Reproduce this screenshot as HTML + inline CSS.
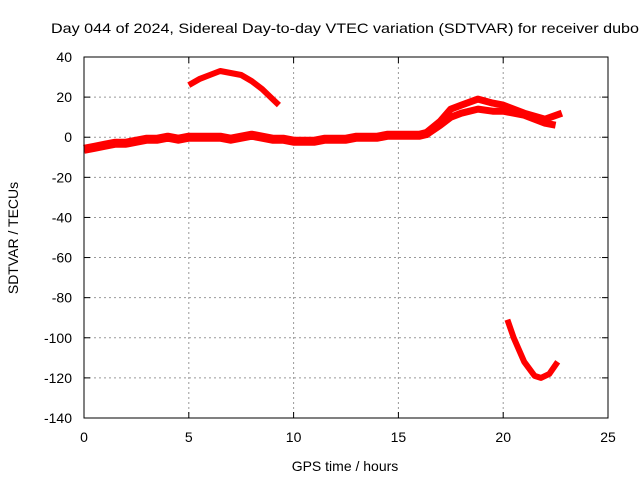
<!DOCTYPE html>
<html><head><meta charset="utf-8"><style>
body{margin:0;background:#fff}
svg text{font-family:"Liberation Sans",sans-serif;font-size:14px;fill:#000}
</style></head><body>
<svg id="c" width="640" height="480">
<g id="grid"></g><g id="series"></g><g id="axes"></g>
<text x="51" y="33" textLength="588" lengthAdjust="spacingAndGlyphs">Day 044 of 2024, Sidereal Day-to-day VTEC variation (SDTVAR) for receiver dubo</text>
<text x="345" y="471" text-anchor="middle">GPS time / hours</text>
<text transform="translate(18,238) rotate(-90)" text-anchor="middle">SDTVAR / TECUs</text>
</svg>
<script>
const xTicks=[0,5,10,15,20,25];
const yTicks=[40,20,0,-20,-40,-60,-80,-100,-120,-140];
const mainX=[0,0.5,1,1.5,2,2.5,3,3.5,4,4.5,5,5.5,6,6.5,7,7.5,8,8.5,9,9.5,10,10.5,11,11.5,12,12.5,13,13.5,14,14.5,15,15.5,16,16.4];
const mainY=[-6,-5,-4,-3,-3,-2,-1,-1,0,-1,0,0,0,0,-1,0,1,0,-1,-1,-2,-2,-2,-1,-1,-1,0,0,0,1,1,1,1,2];
const upperX=[16.3,17,17.5,18,18.8,19.5,20,21,22,22.8];
const upperY=[2,8,14,16,19,17,16,12,9,12];
const lowerX=[16.3,17,17.5,18,18.8,19.5,20,21,22,22.5];
const lowerY=[1,6,10,12,14,13,13,11,7,6];
const arcX=[5,5.5,6,6.5,7,7.5,8,8.5,9,9.3];
const arcY=[26,29,31,33,32,31,28,24,19,16];
const dipX=[20.2,20.5,21,21.5,21.8,22.2,22.6];
const dipY=[-91,-100,-112,-119,-120,-118,-112];
const L=84,R=608,T=57,B=418;
const sx=v=>L+(v-0)/25*(R-L), sy=v=>T+(40-v)/180*(B-T);
const NS="http://www.w3.org/2000/svg";
function mk(t,a,p){const e=document.createElementNS(NS,t);for(const k in a)e.setAttribute(k,a[k]);p.appendChild(e);return e;}
const grid=document.getElementById('grid'),axes=document.getElementById('axes'),ser=document.getElementById('series');
xTicks.forEach(v=>{const x=sx(v);
 if(v>0&&v<25){const g=mk('line',{x1:x,x2:x,y1:T,y2:B,stroke:'#999','stroke-dasharray':'2,3'},grid);
 
 }
 mk('line',{x1:x,x2:x,y1:B,y2:B-6,stroke:'#000'},axes);mk('line',{x1:x,x2:x,y1:T,y2:T+6,stroke:'#000'},axes);
 const t=mk('text',{x:x,y:B+24,'text-anchor':'middle'},axes);t.textContent=v;
 
 });
yTicks.forEach(v=>{const y=sy(v);
 if(v<40&&v>-140){const g=mk('line',{x1:L,x2:R,y1:y,y2:y,stroke:'#999','stroke-dasharray':'2,3'},grid);
 
 }
 mk('line',{x1:L,x2:L+6,y1:y,y2:y,stroke:'#000'},axes);mk('line',{x1:R,x2:R-6,y1:y,y2:y,stroke:'#000'},axes);
 const t=mk('text',{x:L-12,y:y+5,'text-anchor':'end'},axes);t.textContent=v;
 
 });
const fr=mk('rect',{x:L,y:T,width:R-L,height:B-T,fill:'none',stroke:'#000'},axes);


function line(xs,ys,w,name){const p=xs.map((x,i)=>sx(x).toFixed(1)+','+sy(ys[i]).toFixed(1)).join(' ');
 const e=mk('polyline',{points:p,fill:'none',stroke:'#f00','stroke-width':w,'stroke-linejoin':'round','stroke-linecap':'butt'},ser);
 
 }
line(mainX,mainY,9,'sdtvar-main-series');
line(upperX,upperY,7,'sdtvar-upper-series');
line(lowerX,lowerY,7,'sdtvar-lower-series');
line(arcX,arcY,6,'sdtvar-arc-series');
line(dipX,dipY,6,'sdtvar-dip-series');
</script>
</body></html>
